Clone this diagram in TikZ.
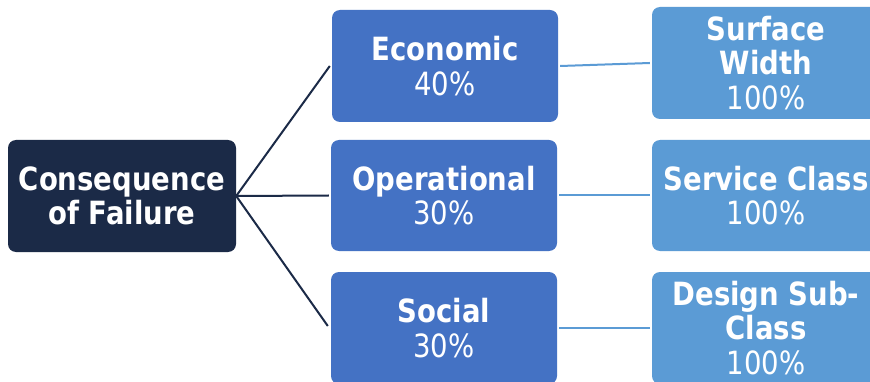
\documentclass[tikz,border=0pt]{standalone}
\usepackage{fontspec}
\setmainfont{DejaVu Sans}[FakeStretch=0.86]
\definecolor{navy}{HTML}{1B2A47}
\definecolor{midblue}{HTML}{4472C4}
\definecolor{lightblue}{HTML}{5B9BD5}
\begin{document}
\begin{tikzpicture}[x=1pt,y=-1pt,
  box/.style={rectangle, rounded corners=8pt, text=white, align=center, inner sep=0pt,
    font=\fontsize{32}{34.5}\selectfont},
  rootbox/.style={box, fill=navy, minimum width=228pt, minimum height=112pt},
  midbox/.style={box, fill=midblue, minimum width=226pt, minimum height=112pt},
  leafbox/.style={box, fill=lightblue, minimum width=228pt, minimum height=112pt},
  darkline/.style={draw=navy, line width=2pt},
  lightline/.style={draw=lightblue, line width=2pt}]
\useasboundingbox (0,0) rectangle (870,382);
\clip (0,0) rectangle (870,382);
\fill[white] (0,0) rectangle (870,382);

\node[rootbox] (root) at (122,196) {\textbf{Consequence}\\\textbf{of Failure}};
\node[midbox] (eco) at (445,66) {\textbf{Economic}\\40\%};
\node[midbox, minimum height=111pt] (op) at (444,195.5) {\textbf{Operational}\\30\%};
\node[midbox] (soc) at (444,328) {\textbf{Social}\\30\%};
\node[leafbox] (sw) at (766,63) {\textbf{Surface}\\\textbf{Width}\\100\%};
\node[leafbox, minimum height=111pt] (sc) at (766,195.5) {\textbf{Service Class}\\100\%};
\node[leafbox] (ds) at (766,328) {\textbf{Design Sub-}\\\textbf{Class}\\100\%};

\draw[darkline] (root.east) -- ([xshift=-2pt]eco.west);
\draw[darkline] (root.east) -- ([xshift=-2pt]op.west);
\draw[darkline] (root.east) -- ([xshift=-3pt,yshift=2pt]soc.west);
\draw[lightline] ([xshift=2pt]eco.east) -- ([xshift=-2pt]sw.west);
\draw[lightline] ([xshift=2pt]op.east) -- ([xshift=-2pt]sc.west);
\draw[lightline] ([xshift=2pt]soc.east) -- ([xshift=-2pt]ds.west);
\end{tikzpicture}
\end{document}
